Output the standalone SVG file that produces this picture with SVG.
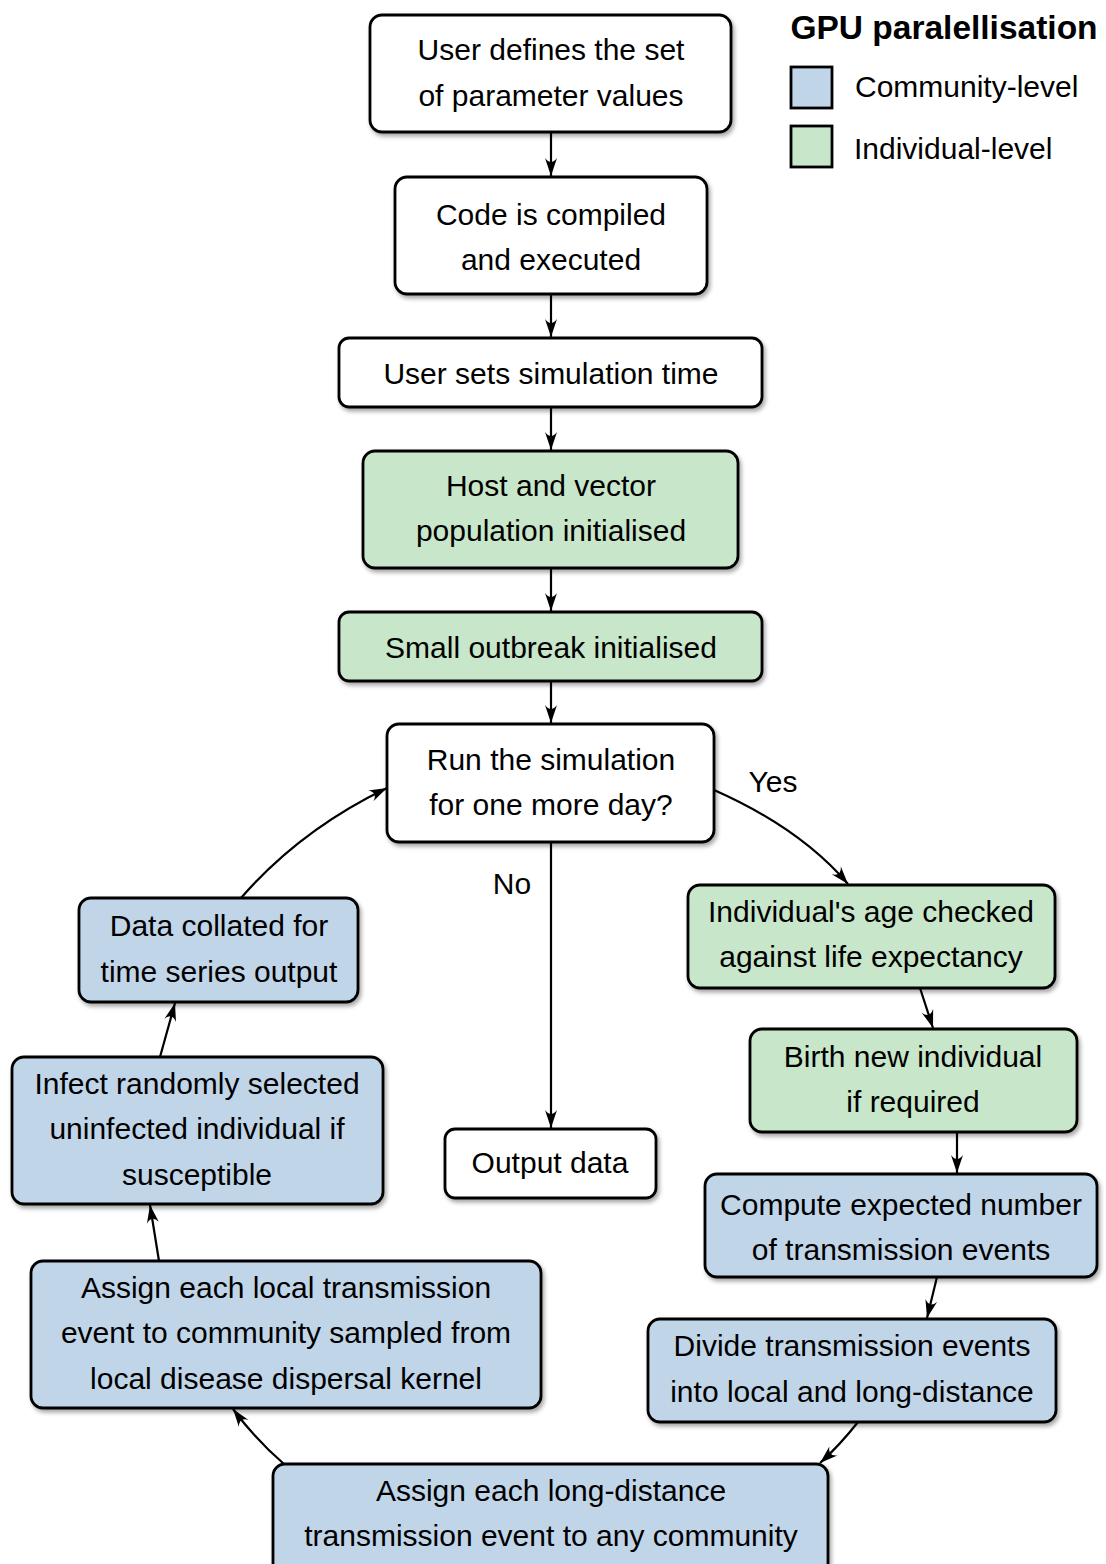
<svg xmlns="http://www.w3.org/2000/svg" width="1106" height="1564" viewBox="0 0 1106 1564">
<style>
.b{stroke:#000;stroke-width:2.8;filter:url(#sh)}
.w{fill:#fff}.g{fill:#c8e6c9}.c{fill:#c1d5e9}
text{font-family:"Liberation Sans",Arial,sans-serif;font-size:30px;fill:#000;text-anchor:middle;dominant-baseline:central}
.e{fill:none;stroke:#000;stroke-width:2.2;marker-end:url(#ah)}
</style>
<defs>
<filter id="sh" x="-10%" y="-10%" width="130%" height="140%">
<feDropShadow dx="2" dy="3" stdDeviation="2" flood-color="#000" flood-opacity="0.35"/>
</filter>
<marker id="ah" viewBox="-19 -7 20 14" refX="0" refY="0" markerWidth="20" markerHeight="14" markerUnits="userSpaceOnUse" orient="auto">
<path d="M0,0 L-18,-6 Q-10,0 -18,6 Z" fill="#000"/>
</marker>
</defs>
<rect width="1106" height="1564" fill="#fff"/>
<g id="legend">
<text x="944" y="27" style="font-weight:bold;font-size:33.5px">GPU paralellisation</text>
<rect x="791" y="67" width="41" height="41" class="c" stroke="#000" stroke-width="2.8"/>
<rect x="791" y="126" width="41" height="41" class="g" stroke="#000" stroke-width="2.8"/>
<text x="855" y="86" style="text-anchor:start">Community-level</text>
<text x="854" y="148" style="text-anchor:start">Individual-level</text>
</g>
<g id="connectors">
<path class="e" d="M551,132 L551,176"/>
<path class="e" d="M551,294 L551,337"/>
<path class="e" d="M551,407 L551,450"/>
<path class="e" d="M551,568 L551,611"/>
<path class="e" d="M551,681 L551,723"/>
<path class="e" d="M551,842 L551,1128"/>
<path class="e" d="M714,790 Q800,828 848,884"/>
<path class="e" d="M920,988 L933,1028"/>
<path class="e" d="M957,1132 L957,1173"/>
<path class="e" d="M937,1277 L927,1318"/>
<path class="e" d="M858,1422 Q840,1445 820,1463"/>
<path class="e" d="M284,1464 Q256,1440 233,1409"/>
<path class="e" d="M159,1261 L150,1205"/>
<path class="e" d="M160,1057 L175,1003"/>
<path class="e" d="M241,898 Q300,830 387,788"/>
<text x="512" y="883">No</text>
<text x="773" y="781">Yes</text>
</g>
<g id="n1"><rect class="b w" x="370" y="15" width="361" height="117" rx="12"/><text x="551" y="49">User defines the set</text><text x="551" y="95">of parameter values</text></g>
<g id="n2"><rect class="b w" x="395" y="177" width="312" height="117" rx="12"/><text x="551" y="214">Code is compiled</text><text x="551" y="259">and executed</text></g>
<g id="n3"><rect class="b w" x="339" y="338" width="423" height="69" rx="10"/><text x="551" y="373">User sets simulation time</text></g>
<g id="n4"><rect class="b g" x="363" y="451" width="375" height="117" rx="12"/><text x="551" y="485">Host and vector</text><text x="551" y="530">population initialised</text></g>
<g id="n5"><rect class="b g" x="339" y="612" width="423" height="69" rx="10"/><text x="551" y="647">Small outbreak initialised</text></g>
<g id="n6"><rect class="b w" x="387" y="724" width="327" height="118" rx="12"/><text x="551" y="759">Run the simulation</text><text x="551" y="804">for one more day?</text></g>
<g id="n7"><rect class="b g" x="688" y="885" width="367" height="103" rx="12"/><text x="871" y="911">Individual's age checked</text><text x="871" y="956">against life expectancy</text></g>
<g id="n8"><rect class="b g" x="750" y="1029" width="327" height="103" rx="12"/><text x="913" y="1056">Birth new individual</text><text x="913" y="1101">if required</text></g>
<g id="n9"><rect class="b c" x="705" y="1174" width="392" height="103" rx="12"/><text x="901" y="1204">Compute expected number</text><text x="901" y="1249">of transmission events</text></g>
<g id="n10"><rect class="b c" x="648" y="1319" width="408" height="103" rx="12"/><text x="852" y="1345">Divide transmission events</text><text x="852" y="1391">into local and long-distance</text></g>
<g id="n11"><rect class="b c" x="273" y="1464" width="555" height="125" rx="12"/><text x="551" y="1490">Assign each long-distance</text><text x="551" y="1535">transmission event to any community</text></g>
<g id="n12"><rect class="b c" x="31" y="1261" width="510" height="147" rx="12"/><text x="286" y="1287">Assign each local transmission</text><text x="286" y="1332">event to community sampled from</text><text x="286" y="1378">local disease dispersal kernel</text></g>
<g id="n13"><rect class="b c" x="12" y="1057" width="371" height="147" rx="12"/><text x="197" y="1083">Infect randomly selected</text><text x="197" y="1128">uninfected individual if</text><text x="197" y="1174">susceptible</text></g>
<g id="n14"><rect class="b c" x="79" y="898" width="279" height="104" rx="12"/><text x="219" y="925">Data collated for</text><text x="219" y="971">time series output</text></g>
<g id="n15"><rect class="b w" x="445" y="1129" width="211" height="69" rx="10"/><text x="550" y="1162">Output data</text></g>
</svg>
